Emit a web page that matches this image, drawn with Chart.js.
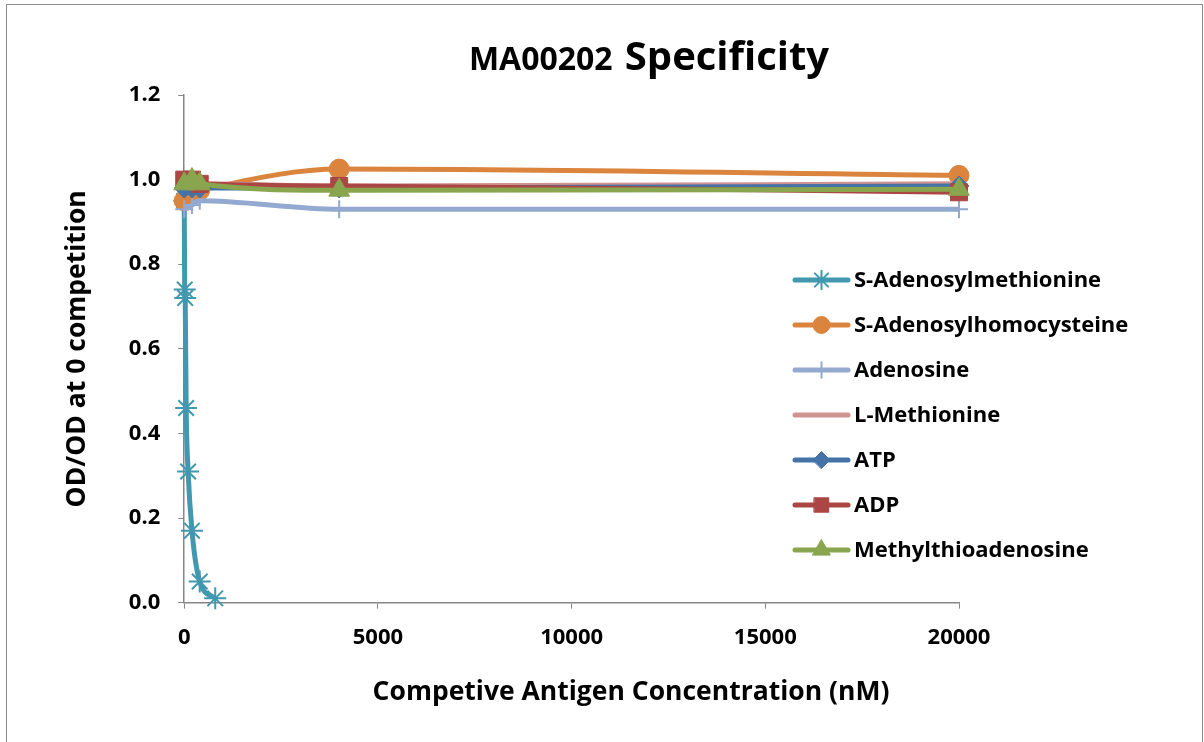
<!DOCTYPE html>
<html>
<head>
<meta charset="utf-8">
<script src="https://cdn.jsdelivr.net/npm/chart.js@4.4.1/dist/chart.umd.min.js"></script>
<style>
  html, body { margin: 0; padding: 0; background: #fff; overflow: hidden; }
  #wrap { position: relative; width: 1204px; height: 742px; }
  #frame { position: absolute; left: 6px; top: 4px; width: 1197px; height: 800px; border: 1px solid #8c8c8c; box-sizing: border-box; }
  #title { position: absolute; left: 0; width: 1298px; top: 30px; text-align: center; font-family: "Open Sans", sans-serif; font-weight: 700; color: #000; white-space: nowrap; line-height: 50px; }
  #title .a { font-size: 32px; margin-right: 8px; }
  #title .b { font-size: 40px; }
  #xTitle { position: absolute; left: 0; width: 1262px; top: 672px; line-height: 36px; text-align: center; font-family: "Open Sans", sans-serif; font-weight: 700; font-size: 26.5px; color: #000; white-space: nowrap; }
  canvas { position: absolute; left: 0; top: 0; }
</style>
</head>
<body>
<div id="wrap">
  <div id="frame"></div>
  <canvas id="specChart" width="1204" height="742"></canvas>
  <div id="title"><span class="a">MA00202</span> <span class="b">Specificity</span></div>
  <div id="xTitle">Competive Antigen Concentration (nM)</div>
</div>
<script>
const seriesNames = ['S-Adenosylmethionine', 'S-Adenosylhomocysteine', 'Adenosine', 'L-Methionine', 'ATP', 'ADP', 'Methylthioadenosine'];

// concentrations (nM)
const samConc = [0, 12.5, 25, 50, 100, 200, 400, 800];
const otherConc = [0, 200, 400, 4000, 20000];

// OD / OD at 0 competition
const samValues = [0.95, 0.74, 0.72, 0.46, 0.31, 0.17, 0.05, 0.01];
const sahValues = [0.95, 0.97, 0.975, 1.025, 1.01];
const adenosineValues = [0.93, 0.94, 0.95, 0.93, 0.93];
const methionineValues = [0.99, 0.99, 0.99, 0.985, 0.99];
const atpValues = [0.98, 0.98, 0.98, 0.98, 0.985];
const adpValues = [1.0, 1.0, 0.99, 0.985, 0.97];
const mtaValues = [0.99, 1.0, 0.99, 0.975, 0.977];

const xTicks = [0, 5000, 10000, 15000, 20000];
const yTicks = [0, 0.2, 0.4, 0.6, 0.8, 1.0, 1.2];

const colors = ['#4198AF', '#DB843D', '#93A9CF', '#D19392', '#4572A7', '#AA4643', '#89A54E'];
const markers = ['star', 'circle', 'cross', false, 'rectRot', 'rect', 'triangle'];
const radii = [11, 10, 9, 0, 10, 12, 12];
const valueSets = [samValues, sahValues, adenosineValues, methionineValues, atpValues, adpValues, mtaValues];

const toPoints = (xs, ys) => xs.map((x, i) => ({ x: x, y: ys[i] }));

const datasets = seriesNames.map((name, i) => ({
  label: name,
  data: toPoints(i === 0 ? samConc : otherConc, valueSets[i]),
  borderColor: colors[i],
  backgroundColor: colors[i],
  borderWidth: 5,
  pointStyle: markers[i],
  pointRadius: radii[i],
  pointHoverRadius: radii[i],
  pointBorderWidth: (markers[i] === 'star' || markers[i] === 'cross') ? 2 : 1,
  showLine: true,
  tension: 0.4,
  cubicInterpolationMode: 'monotone',
  clip: false,
  order: seriesNames.length - i
}));

const FONT = '"Open Sans", sans-serif';

// legend drawn over the plot area, like the original
const sideLegend = {
  id: 'sideLegend',
  afterDraw(chart) {
    const ctx = chart.ctx;
    const x0 = 795, x1 = 848, top = 280, step = 45;
    ctx.save();
    chart.data.datasets.forEach((ds, i) => {
      const y = top + i * step;
      ctx.strokeStyle = ds.borderColor;
      ctx.lineWidth = 5;
      ctx.lineCap = 'round';
      ctx.beginPath();
      ctx.moveTo(x0, y);
      ctx.lineTo(x1, y);
      ctx.stroke();
      if (ds.pointStyle) {
        ctx.fillStyle = ds.backgroundColor;
        ctx.strokeStyle = ds.borderColor;
        ctx.lineWidth = ds.pointBorderWidth;
        Chart.helpers.drawPoint(ctx, { pointStyle: ds.pointStyle, radius: ds.pointRadius * 0.85, rotation: 0, borderWidth: ds.pointBorderWidth }, (x0 + x1) / 2, y);
      }
      ctx.fillStyle = '#000';
      ctx.font = 'bold 22px ' + FONT;
      ctx.textBaseline = 'middle';
      ctx.textAlign = 'left';
      ctx.fillText(ds.label, 854, y + 1);
    });
    ctx.restore();
  }
};

new Chart(document.getElementById('specChart'), {
  type: 'scatter',
  data: { datasets: datasets },
  options: {
    responsive: false,
    animation: false,
    layout: { padding: { left: 58, right: 245, top: 95, bottom: 75 } },
    plugins: {
      legend: { display: false },
      tooltip: { enabled: false },
      title: { display: false }
    },
    scales: {
      x: {
        type: 'linear',
        min: 0,
        max: 20000,
        afterBuildTicks: axis => { axis.ticks = xTicks.map(v => ({ value: v })); },
        ticks: { color: '#000', font: { family: FONT, size: 22, weight: 'bold' }, padding: 16, callback: v => String(v) },
        grid: { display: true, drawOnChartArea: false, drawTicks: true, tickLength: 6, color: '#868686' },
        border: { color: '#868686', width: 1.5 }
      },
      y: {
        type: 'linear',
        min: 0,
        max: 1.2,
        afterBuildTicks: axis => { axis.ticks = yTicks.map(v => ({ value: v })); },
        ticks: { color: '#000', font: { family: FONT, size: 22, weight: 'bold' }, padding: 18, callback: v => v.toFixed(1) },
        grid: { display: true, drawOnChartArea: false, drawTicks: true, tickLength: 6, color: '#868686' },
        border: { color: '#868686', width: 1.5 },
        title: { display: true, text: 'OD/OD at 0 competition', color: '#000', font: { family: FONT, size: 26.5, weight: 'bold' }, padding: { bottom: 17 } }
      }
    }
  },
  plugins: [sideLegend]
});
</script>
</body>
</html>
